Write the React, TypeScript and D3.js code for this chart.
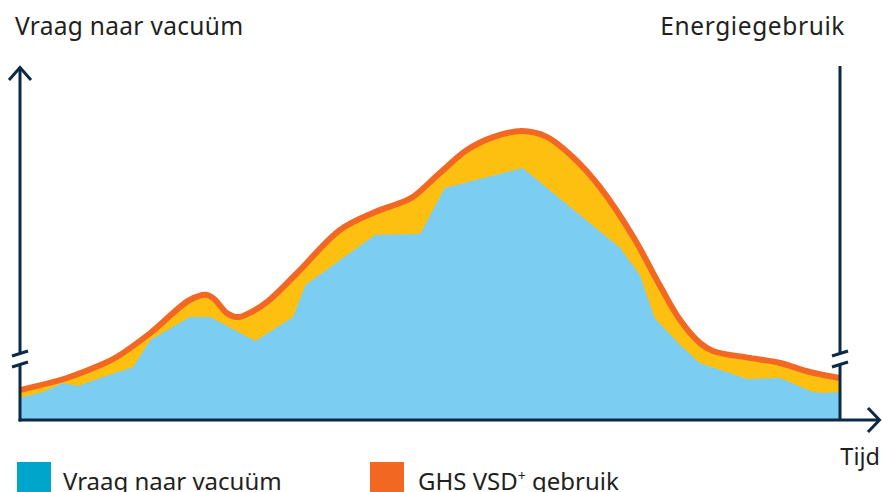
import React from "react";
import * as d3 from "d3";

// Time (0–100) vs. relative level (0–100)
const demandTime = [0, 2.8, 5.2, 7.1, 9.8, 13.8, 15.9, 20.7, 23.2, 28.7, 33.3, 34.8, 43.3, 48.8, 51.8, 61.3, 73.2, 75.6, 77.4, 80.5, 82.9, 88.7, 92.7, 96.7, 98, 100];
const demandValue = [7.3, 9.3, 12.3, 11.3, 14, 17.7, 26.7, 34.3, 34.3, 26.3, 34.3, 45, 61.7, 62, 77.3, 84, 57.3, 48.3, 34, 25, 19, 13.7, 14, 9.3, 9.0, 9.3];

const energyTime = [0, 5.7, 9.8, 11.8, 15.9, 20.7, 22.8, 23.8, 25.2, 26.6, 28, 30.1, 33.8, 39, 43.3, 46.3, 47.9, 51.2, 54.5, 57.7, 61.2, 64.3, 67.4, 70.7, 74.8, 78, 80.5, 82.9, 84.5, 89, 92.7, 96.3, 100];
const energyValue = [10, 14, 18.3, 21, 29, 40, 41.7, 40, 35.7, 34.3, 35.7, 39.3, 49, 63.3, 69.3, 72.3, 74.3, 82.3, 90, 94.3, 96.3, 94.3, 87.7, 77.7, 61, 45, 33.3, 25.7, 23, 20.7, 19, 16, 14];

const titleLeft = "Vraag naar vacuüm";
const titleRight = "Energiegebruik";
const xLabel = "Tijd";
const legendItems = [
  { label: "Vraag naar vacuüm", color: "#00A5CC" },
  { label: "GHS VSD", sup: "+", rest: " gebruik", color: "#F26722" },
];

const W = 883;
const H = 492;
const X0 = 20;
const X1 = 840;
const Y0 = 420;
const AXIS = "#0C2A44";
const FONT = "'Noto Sans', 'Open Sans', sans-serif";

export default function App() {
  const x = d3.scaleLinear().domain([0, 100]).range([X0, X1]);
  const y = d3.scaleLinear().domain([0, 100]).range([Y0, 120]);

  const demand = demandTime.map((t, i) => [t, demandValue[i]] as [number, number]);
  const energy = energyTime.map((t, i) => [t, energyValue[i]] as [number, number]);

  const demandArea = d3
    .area<[number, number]>()
    .x((d) => x(d[0]))
    .y0(Y0)
    .y1((d) => y(d[1]))
    .curve(d3.curveLinear)(demand) as string;

  const energyArea = d3
    .area<[number, number]>()
    .x((d) => x(d[0]))
    .y0(Y0)
    .y1((d) => y(d[1]))
    .curve(d3.curveCatmullRom.alpha(0.5))(energy) as string;

  const energyLine = d3
    .line<[number, number]>()
    .x((d) => x(d[0]))
    .y((d) => y(d[1]))
    .curve(d3.curveCatmullRom.alpha(0.5))(energy) as string;

  const breakY = 359;

  const breakMark = (cx: number, key: string) => (
    <g key={key}>
      <polygon
        points={`${cx - 8},${breakY - 3} ${cx + 8},${breakY - 8} ${cx + 8},${breakY + 3} ${cx - 8},${breakY + 8}`}
        fill="#fff"
      />
      <line x1={cx - 8} y1={breakY - 3} x2={cx + 8} y2={breakY - 8} stroke={AXIS} strokeWidth={3} />
      <line x1={cx - 8} y1={breakY + 8} x2={cx + 8} y2={breakY + 3} stroke={AXIS} strokeWidth={3} />
    </g>
  );

  return (
    <svg width={W} height={H} style={{ position: "absolute", left: 0, top: 0 }}>
      <defs>
        <clipPath id="plot">
          <rect x={X0} y={0} width={X1 - X0} height={Y0} />
        </clipPath>
      </defs>
      <rect width={W} height={H} fill="#fff" />
      <g clipPath="url(#plot)">
        <path d={energyArea} fill="#FDC010" />
        <path d={demandArea} fill="#7BCDF2" />
        <path d={energyLine} fill="none" stroke="#F26722" strokeWidth={6} strokeLinejoin="round" />
      </g>

      {/* axes */}
      <line x1={X0} y1={Y0 + 1.5} x2={X0} y2={67} stroke={AXIS} strokeWidth={3} />
      <polyline points={`${X0 - 11},80 ${X0},67.5 ${X0 + 11},80`} fill="none" stroke={AXIS} strokeWidth={3} />
      <line x1={X1} y1={Y0} x2={X1} y2={66} stroke={AXIS} strokeWidth={3} />
      <line x1={X0 - 1.5} y1={Y0} x2={879} y2={Y0} stroke={AXIS} strokeWidth={3} />
      <polyline points={`868,408 879.5,${Y0} 868,432`} fill="none" stroke={AXIS} strokeWidth={3} />
      {breakMark(X0, "l")}
      {breakMark(X1, "r")}

      {/* titles */}
      <text x={15} y={35} fontFamily={FONT} fontSize={24.5} letterSpacing={0.3} fill="#231F20">
        {titleLeft}
      </text>
      <text x={845} y={35} textAnchor="end" fontFamily={FONT} fontSize={24.5} letterSpacing={0.6} fill="#231F20">
        {titleRight}
      </text>
      <text x={880} y={465} textAnchor="end" fontFamily={FONT} fontSize={23.5} fill="#231F20">
        {xLabel}
      </text>

      {/* legend */}
      <rect x={17} y={462} width={34} height={34} fill={legendItems[0].color} />
      <text x={63} y={490} fontFamily={FONT} fontSize={24} fill="#231F20">
        {legendItems[0].label}
      </text>
      <rect x={370} y={462} width={34} height={34} fill={legendItems[1].color} />
      <text x={418} y={490} fontFamily={FONT} fontSize={24} fill="#231F20">
        {legendItems[1].label}
        <tspan fontSize={14} dy={-9}>{legendItems[1].sup}</tspan>
        <tspan dy={9}>{legendItems[1].rest}</tspan>
      </text>
    </svg>
  );
}
